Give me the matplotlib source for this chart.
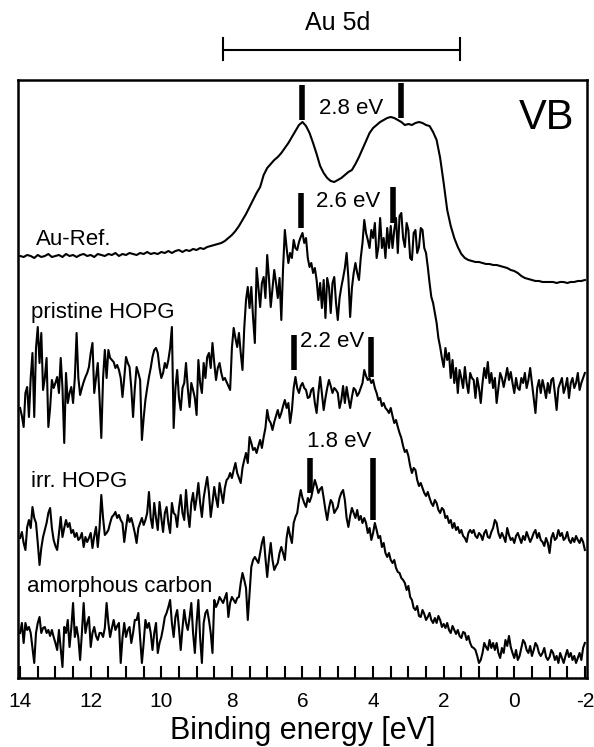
import numpy as np
import matplotlib
matplotlib.use("Agg")
import matplotlib.pyplot as plt

plt.rcParams['font.family'] = ['Liberation Sans', 'DejaVu Sans']

# binding energy grids, 14 eV down to -2 eV
energy_au = np.linspace(14.0, -2.0, 161)     # 0.1 eV steps
energy = np.linspace(14.0, -2.0, 321)        # 0.05 eV steps

# intensities in arb. units, already offset
au_ref = [
    422, 421, 423, 422, 420, 423, 421, 422, 424, 421,
    422, 423, 421, 424, 422, 423, 421, 423, 424, 422,
    423, 421, 424, 423, 422, 424, 423, 425, 422, 424,
    423, 425, 424, 423, 425, 424, 426, 424, 425, 424,
    426, 425, 427, 425, 427, 428, 426, 428, 427, 429,
    428, 430, 429, 431, 432, 433, 434, 435, 437, 440,
    443, 447, 452, 458, 464, 471, 478, 485, 491, 503,
    510, 514, 518, 521, 525, 530, 535, 541, 547, 553,
    556, 552, 545, 535, 524, 512, 505, 500, 497, 496,
    498, 500, 503, 506, 508, 514, 521, 529, 537, 545,
    550, 553, 556, 558, 560, 561, 560, 558, 556, 553,
    554, 553, 555, 556, 555, 553, 552, 546, 538, 520,
    495, 468, 452, 440, 431, 424, 420, 418, 417, 416,
    416, 415, 414, 414, 413, 413, 412, 411, 410, 408,
    407, 405, 402, 400, 399, 398, 397, 397, 396, 396,
    396, 396, 395, 396, 396, 395, 396, 396, 397, 397,
    398,
]

pristine = [
    270, 262, 251, 285, 291, 261, 300, 325, 261, 330,
    351, 315, 345, 288, 300, 320, 251, 270, 298, 290,
    295, 301, 285, 320, 290, 235, 305, 275, 285, 291,
    275, 300, 345, 300, 283, 290, 296, 301, 305, 311,
    325, 335, 285, 300, 315, 280, 240, 300, 328, 300,
    328, 320, 318, 316, 310, 313, 308, 300, 281, 300,
    321, 315, 311, 290, 261, 290, 311, 305, 298, 238,
    260, 278, 290, 301, 310, 321, 328, 330, 325, 310,
    300, 305, 315, 310, 318, 330, 351, 250, 290, 308,
    280, 268, 290, 295, 315, 290, 271, 295, 288, 280,
    263, 318, 295, 285, 315, 300, 321, 325, 310, 335,
    315, 298, 310, 315, 305, 298, 300, 296, 292, 288,
    330, 350, 340, 331, 345, 325, 308, 350, 378, 391,
    370, 391, 360, 335, 410, 390, 371, 395, 401, 380,
    423, 400, 371, 390, 408, 395, 380, 400, 358, 410,
    448, 430, 415, 425, 420, 438, 430, 428, 436, 441,
    445, 435, 440, 420, 411, 415, 405, 410, 398, 378,
    395, 370, 398, 360, 400, 391, 365, 395, 401, 375,
    358, 380, 391, 400, 410, 425, 400, 361, 390, 405,
    415, 405, 398, 420, 435, 458, 445, 438, 430, 448,
    440, 455, 420, 431, 460, 430, 440, 420, 450, 430,
    452, 430, 448, 460, 425, 462, 465, 440, 431, 455,
    448, 420, 418, 445, 448, 425, 431, 450, 448, 430,
    425, 411, 395, 381, 375, 365, 355, 340, 331, 320,
    311, 330, 318, 325, 300, 318, 295, 310, 285, 308,
    300, 290, 311, 295, 285, 305, 300, 298, 280, 300,
    290, 275, 295, 310, 300, 316, 295, 305, 290, 300,
    275, 290, 305, 300, 291, 300, 310, 298, 306, 295,
    285, 300, 290, 288, 300, 295, 305, 290, 298, 310,
    295, 280, 265, 290, 298, 285, 298, 290, 280, 295,
    285, 298, 300, 285, 268, 290, 295, 300, 285, 291,
    300, 280, 295, 300, 290, 295, 305, 288, 295, 300,
    305,
]

irr = [
    140, 146, 135, 128, 151, 158, 150, 171, 160, 155,
    135, 113, 130, 141, 148, 155, 165, 170, 150, 138,
    132, 128, 145, 161, 141, 150, 158, 151, 155, 145,
    148, 141, 145, 138, 140, 145, 131, 141, 136, 140,
    145, 130, 142, 151, 131, 150, 183, 160, 143, 145,
    148, 155, 161, 163, 166, 160, 163, 158, 155, 136,
    150, 163, 156, 160, 153, 145, 135, 150, 155, 160,
    153, 158, 165, 186, 160, 150, 175, 160, 148, 176,
    160, 146, 165, 171, 155, 145, 175, 165, 163, 151,
    170, 183, 165, 158, 188, 165, 151, 175, 185, 168,
    180, 195, 175, 161, 180, 191, 201, 185, 161, 175,
    191, 180, 171, 195, 185, 175, 190, 198, 200, 205,
    200, 208, 215, 205, 200, 195, 210, 218, 225, 215,
    241, 235, 228, 230, 225, 232, 238, 230, 241, 250,
    268, 258, 255, 248, 256, 262, 268, 260, 265, 272,
    278, 270, 275, 255, 268, 290, 301, 290, 285, 292,
    295, 290, 288, 280, 281, 288, 290, 275, 265, 285,
    301, 285, 268, 280, 290, 298, 292, 285, 290, 288,
    285, 270, 278, 292, 275, 291, 280, 270, 281, 290,
    288, 282, 285, 290, 295, 308, 302, 298, 300, 295,
    298, 290, 285, 278, 280, 272, 275, 270, 268, 265,
    270, 262, 255, 258, 251, 245, 240, 232, 226, 228,
    222, 212, 205, 210, 208, 198, 192, 195, 190, 185,
    182, 186, 180, 175, 172, 178, 175, 168, 165, 170,
    168, 160, 162, 155, 158, 150, 155, 148, 151, 145,
    148, 142, 140, 136, 145, 148, 145, 148, 142, 140,
    145, 143, 138, 145, 148, 141, 140, 146, 150, 158,
    155, 145, 140, 145, 141, 136, 150, 143, 138, 140,
    135, 142, 145, 140, 135, 142, 138, 146, 141, 136,
    140, 145, 148, 140, 145, 138, 136, 132, 140, 135,
    125, 140, 145, 138, 140, 148, 142, 145, 138, 140,
    146, 138, 135, 140, 136, 142, 138, 135, 140, 136,
    128,
]

amorphous = [
    45, 55, 35, 55, 48, 51, 45, 30, 15, 45,
    55, 61, 45, 50, 51, 45, 48, 42, 48, 41,
    35, 28, 48, 30, 11, 51, 45, 58, 31, 50,
    75, 41, 51, 40, 18, 45, 75, 45, 55, 61,
    31, 45, 51, 42, 38, 45, 45, 41, 50, 75,
    55, 41, 50, 58, 48, 52, 55, 15, 40, 55,
    41, 48, 51, 35, 45, 58, 58, 65, 40, 15,
    35, 58, 50, 55, 45, 28, 45, 55, 25, 35,
    41, 50, 61, 65, 71, 78, 55, 41, 61, 68,
    50, 28, 50, 68, 55, 48, 60, 75, 45, 25,
    55, 78, 40, 15, 55, 65, 68, 58, 45, 25,
    78, 71, 75, 81, 78, 75, 80, 85, 61, 75,
    81, 78, 75, 80, 81, 95, 105, 98, 90, 58,
    85, 111, 118, 121, 118, 115, 125, 135, 141, 120,
    101, 120, 135, 118, 108, 112, 115, 125, 131, 125,
    118, 140, 151, 142, 135, 155, 161, 165, 178, 188,
    180, 175, 171, 180, 176, 181, 190, 198, 192, 185,
    189, 191, 180, 168, 158, 170, 178, 175, 165, 168,
    171, 180, 185, 188, 178, 160, 151, 162, 170, 165,
    160, 168, 158, 162, 155, 160, 155, 145, 150, 138,
    145, 155, 148, 140, 142, 131, 135, 125, 121, 125,
    118, 115, 118, 110, 106, 105, 100, 98, 95, 88,
    92, 81, 78, 70, 68, 72, 62, 61, 68, 64,
    58, 61, 65, 58, 55, 60, 55, 62, 58, 51,
    54, 50, 55, 48, 45, 52, 48, 44, 48, 42,
    40, 46, 45, 38, 42, 35, 31, 30, 28, 22,
    15, 18, 25, 35, 31, 28, 38, 30, 35, 28,
    35, 25, 20, 30, 25, 38, 32, 42, 31, 25,
    20, 28, 18, 22, 30, 38, 35, 28, 25, 32,
    22, 28, 35, 32, 25, 22, 25, 30, 21, 18,
    21, 28, 25, 18, 22, 15, 25, 20, 15, 22,
    28, 21, 25, 18, 22, 15, 20, 25, 18, 30,
    35,
]

names = ["Au-Ref.", "pristine HOPG", "irr. HOPG", "amorphous carbon"]
spectra = [(energy_au, au_ref), (energy, pristine), (energy, irr), (energy, amorphous)]

# Au 5d peak positions (eV) and splitting text
peaks = [(6.0, 3.2), (6.05, 3.45), (6.25, 4.05), (5.8, 4.0)]
splits = ["2.8 eV", "2.6 eV", "2.2 eV", "1.8 eV"]

# layout (data units of the offset axis)
name_pos = [(13.55, 438), (13.69, 365), (13.69, 196), (13.8, 91)]
split_pos = [(4.62, 570), (4.71, 476), (5.15, 336), (4.97, 236)]
bar_spans = [[(558, 593), (560, 595)],
             [(450, 485), (455, 491)],
             [(308, 343), (301, 341)],
             [(185, 220), (158, 220)]]

fig = plt.figure(figsize=(5.94, 7.47), dpi=100)
ax = fig.add_axes([0.0303, 0.0924, 0.9579, 0.8005])

for i in range(len(spectra)):
    x, y = spectra[i]
    ax.plot(x, y, color='black', lw=1.5)
    ax.text(name_pos[i][0], name_pos[i][1], names[i], fontsize=16,
            ha='left', va='center')
    ax.text(split_pos[i][0], split_pos[i][1], splits[i], fontsize=16,
            ha='center', va='center')
    for e, (lo, hi) in zip(peaks[i], bar_spans[i]):
        ax.plot([e, e], [lo, hi], color='black', lw=4, solid_capstyle='butt')

ax.text(-1.69, 560, "VB", fontsize=30, ha='right', va='center')

# Au 5d range bracket above the frame
au5d = (8.25, 1.55)
ax.plot(au5d, [628, 628], color='black', lw=1.5, clip_on=False)
for e in au5d:
    ax.plot([e, e], [618, 640], color='black', lw=1.5, clip_on=False)
ax.text(np.mean(au5d) + 0.1, 655, "Au 5d", fontsize=18, ha='center', va='center')

ax.set_xlim(14.06, -2.06)
ax.set_ylim(0, 598)
ax.set_yticks([])
ax.set_xticks(np.arange(14, -3, -2))
ax.set_xticklabels([str(v) for v in range(14, -3, -2)])
ax.set_xticks(np.arange(14, -2.5, -0.5), minor=True)
ax.tick_params(axis='x', which='both', direction='in', length=9, width=1.5,
               labelsize=15, pad=10)
for s in ax.spines.values():
    s.set_linewidth(1.8)
ax.set_xlabel("Binding energy [eV]", fontsize=22, labelpad=4)

fig.savefig("out.png", dpi=100)
